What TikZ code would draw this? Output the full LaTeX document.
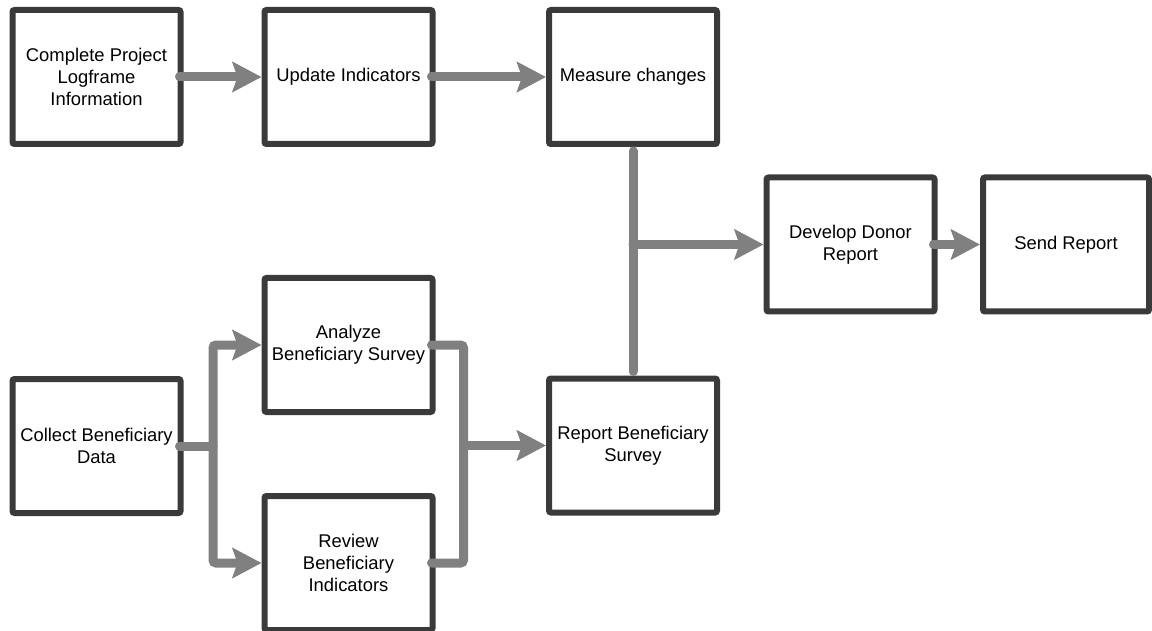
\documentclass[tikz,border=0pt]{standalone}
\usepackage{fontspec}
\setmainfont{Liberation Sans}
\usetikzlibrary{arrows.meta,calc}
\definecolor{boxline}{HTML}{3A3A3A}
\definecolor{conncol}{HTML}{808080}
\begin{document}
\begin{tikzpicture}[x=1pt,y=-1pt,
  box/.style={draw=boxline, line width=6pt, rounded corners=2pt, fill=white,
    minimum width=168pt, minimum height=134pt, inner sep=2pt, align=center,
    font=\fontsize{18.4}{22}\selectfont},
  conn/.style={draw=conncol, line width=9pt, line cap=round, rounded corners=3pt},
  arr/.style={conn, -{Stealth[length=29pt,width=30pt,inset=5pt]}}]
\useasboundingbox (0,0) rectangle (1152,631);
\node[box] (n1) at (96.5,77) {Complete Project\\Logframe\\Information};
\node[box] (n2) at (348.5,77) {Update Indicators};
\node[box] (n3) at (633,77) {Measure changes};
\node[box] (n4) at (850.5,244.5) {Develop Donor\\Report};
\node[box, minimum width=166pt] (n5) at (1066,244.5) {Send Report};
\node[box] (n6) at (348.5,345) {Analyze\\Beneficiary Survey};
\node[box] (n7) at (96.5,446) {Collect Beneficiary\\Data};
\node[box] (n8) at (633,445.5) {Report Beneficiary\\Survey};
\node[box] (n9) at (348.5,563) {Review\\Beneficiary\\Indicators};
% top row
\draw[arr] ([xshift=-4pt]n1.east) -- (n2.west);
\draw[arr] ([xshift=-4pt]n2.east) -- (n3.west);
% vertical join between Measure changes and Report Beneficiary Survey
\draw[conn] ([yshift=-4pt]n3.south) -- ([yshift=4pt]n8.north);
\coordinate (j1) at (n3.south |- n4.west);
\draw[arr] (j1) -- (n4.west);
\draw[arr] ([xshift=-4pt]n4.east) -- (n5.west);
% split from Collect
\coordinate (s1) at ($(n7.east)+(29.5,0)$);
\draw[conn] ([xshift=-4pt]n7.east) -- (s1);
\draw[arr] (s1) |- (n6.west);
\draw[arr] (s1) |- (n9.west);
% merge to Report Beneficiary Survey
\coordinate (m1) at ($(n6.east)+(28,0)$);
\draw[conn] ([xshift=-4pt]n6.east) -| (m1 |- n8.west) |- ([xshift=-4pt]n9.east);
\draw[arr] (m1 |- n8.west) -- (n8.west);
\end{tikzpicture}
\end{document}
